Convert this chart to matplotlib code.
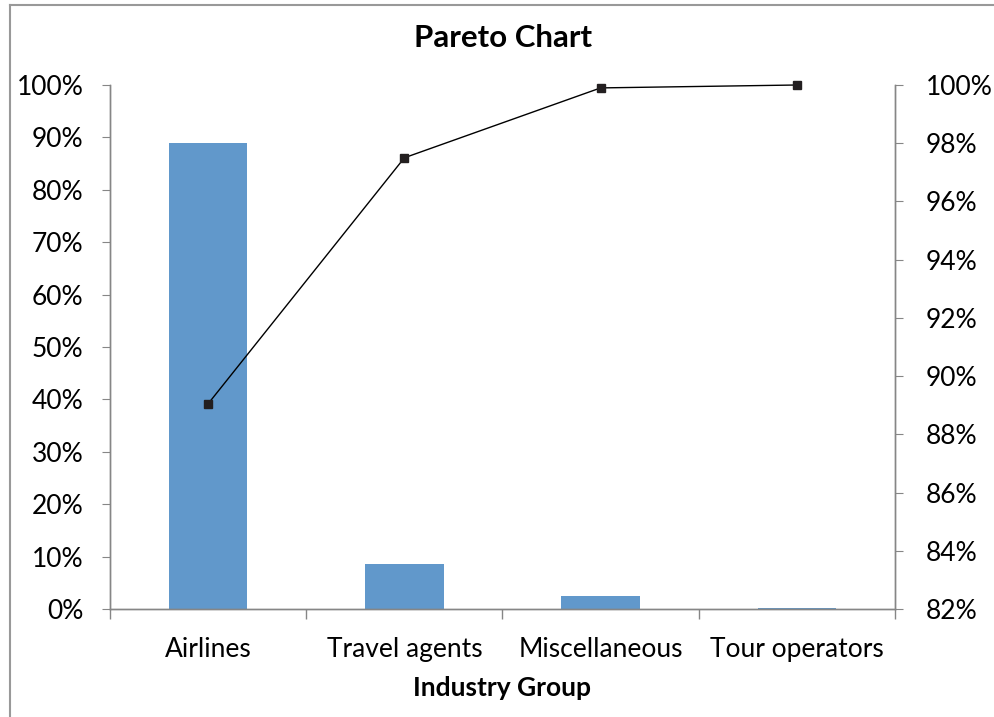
import matplotlib
matplotlib.use("Agg")
import matplotlib.pyplot as plt
from matplotlib.ticker import FuncFormatter, FixedLocator
from matplotlib.lines import Line2D
import numpy as np

categories = ["Airlines", "Travel agents", "Miscellaneous", "Tour operators"]
share_pct = [89.0, 8.5, 2.4, 0.1]
cumulative_pct = [89.05, 97.5, 99.9, 100.0]
left_ticks = [0, 10, 20, 30, 40, 50, 60, 70, 80, 90, 100]
right_ticks = [82, 84, 86, 88, 90, 92, 94, 96, 98, 100]

plt.rcParams['font.family'] = ['Lato', 'DejaVu Sans']

fig = plt.figure(figsize=(9.95, 7.17), dpi=100)
ax = fig.add_axes([110/995, 1-609/717, (895-110)/995, (609-85)/717])
ax2 = ax.twinx()

x = np.arange(len(categories))
ax.bar(x, share_pct, width=0.4, color="#6198cb", zorder=2)
ax.set_xlim(-0.5, len(categories)-0.5)
ax.set_ylim(0, 100)
ax.set_yticks(left_ticks)
ax.yaxis.set_major_formatter(FuncFormatter(lambda v, p: f"{v:.0f}%"))

ax2.plot(x, cumulative_pct, color="black", lw=1.0, marker="s", markersize=6,
         markerfacecolor="#231f20", markeredgecolor="#231f20", zorder=3,
         clip_on=False)
ax2.set_ylim(82, 100)
ax2.set_yticks(right_ticks)
ax2.yaxis.set_major_formatter(FuncFormatter(lambda v, p: f"{v:.0f}%"))

spine_c = "#868686"
for a in (ax, ax2):
    a.spines['top'].set_visible(False)
    for s in ('left', 'right', 'bottom'):
        a.spines[s].set_color(spine_c)
        a.spines[s].set_linewidth(1.0)

fs = 19
ax.xaxis.set_major_locator(FixedLocator(x))
ax.set_xticklabels(categories, fontsize=fs)
ax.tick_params(axis='x', which='major', length=0, pad=20)
ax.xaxis.set_minor_locator(FixedLocator(np.arange(-0.5, len(categories), 1.0)))
ax.tick_params(axis='x', which='minor', length=7, color=spine_c, width=1)
ax.tick_params(axis='y', length=6, color=spine_c, labelsize=fs, pad=13)
ax2.tick_params(axis='y', length=6, color=spine_c, labelsize=fs, pad=16)

ax.set_xlabel("Industry Group", fontsize=fs, fontweight='bold', labelpad=10)
fig.text(503/995, 1-38/717, "Pareto Chart", ha='center', va='center',
         fontsize=22.5, fontweight='bold')

# outer frame lines (top and left)
fig.add_artist(Line2D([10/995, 1], [1-5/717, 1-5/717], transform=fig.transFigure,
                      color="#999999", lw=1.5))
fig.add_artist(Line2D([10/995, 10/995], [0, 1-5/717], transform=fig.transFigure,
                      color="#999999", lw=1.5))

fig.savefig("out.png", dpi=100)
